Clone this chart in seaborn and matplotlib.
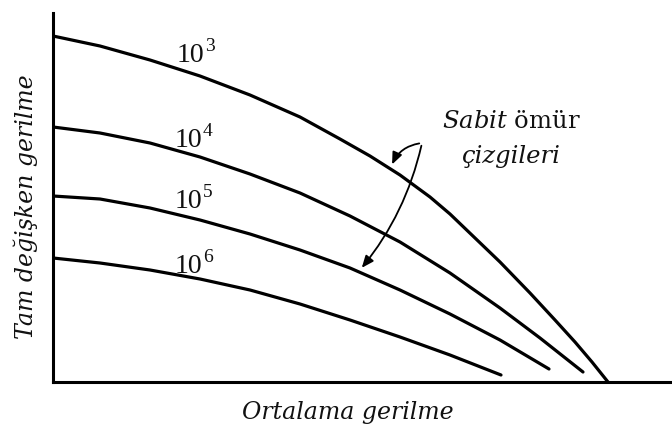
import matplotlib
matplotlib.use("Agg")
import matplotlib.pyplot as plt
import seaborn as sns
import pandas as pd

# Constant-life curves: mean stress (x) vs. alternating stress (y), arbitrary units
x_1e3 = [0, 47, 97, 147, 197, 247, 287, 317, 347, 377, 397, 447, 477, 502, 522, 539, 555]
y_1e3 = [346, 336, 322, 306, 287, 265, 243, 226, 207, 185, 168, 120, 89, 62, 40, 20, 0]

x_1e4 = [0, 47, 97, 147, 197, 247, 297, 347, 397, 447, 487, 530]
y_1e4 = [255, 249, 239, 225, 208, 189, 166, 140, 109, 74, 44, 10]

x_1e5 = [0, 47, 97, 147, 197, 247, 297, 347, 397, 447, 496]
y_1e5 = [186, 183, 174, 162, 148, 132, 114, 92, 68, 42, 13]

x_1e6 = [0, 47, 97, 147, 197, 247, 297, 347, 397, 448]
y_1e6 = [124, 119, 112, 103, 92, 78, 62, 45, 27, 7]

curve_x = [x_1e3, x_1e4, x_1e5, x_1e6]
curve_y = [y_1e3, y_1e4, y_1e5, y_1e6]
exponents = ["3", "4", "5", "6"]

x_label = "Ortalama gerilme"
y_label = "Tam değişken gerilme"
note_line1 = r"$\mathit{Sabit}$ ömür"
note_line2 = "çizgileri"

sns.set_theme(style="white")
plt.rcParams["mathtext.fontset"] = "dejavuserif"

W, H = 672, 430
fig = plt.figure(figsize=(W / 100, H / 100), dpi=100)
ax = fig.add_axes([53 / W, (H - 382) / H, 619 / W, 369 / H])

frames = []
for exp, xs, ys in zip(exponents, curve_x, curve_y):
    frames.append(pd.DataFrame({"x": xs, "y": ys, "life": "10^" + exp}))
df = pd.concat(frames, ignore_index=True)

sns.lineplot(data=df, x="x", y="y", units="life", estimator=None, sort=False,
             color="black", linewidth=2.3, ax=ax, legend=False)
for line in ax.lines:
    line.set_solid_joinstyle("round")
    line.set_solid_capstyle("round")

ax.set_xlim(0, 619)
ax.set_ylim(0, 369)
ax.set_xticks([])
ax.set_yticks([])
for side in ["top", "right"]:
    ax.spines[side].set_visible(False)
for side in ["left", "bottom"]:
    ax.spines[side].set_color("black")
    ax.spines[side].set_linewidth(2.2)
ax.set_xlabel("")
ax.set_ylabel("")

# Life labels (10^N) above each curve
label_pos = [(124, 320), (122, 235), (122, 174), (122, 109)]
for exp, (lx, ly) in zip(exponents, label_pos):
    ax.text(lx, ly, "10", fontsize=20, family="Liberation Serif",
            ha="left", va="baseline", color="#111111")
    ax.text(lx + 28, ly + 11, exp, fontsize=14, family="Liberation Serif",
            ha="left", va="baseline", color="#111111")

# Axis titles
serif = dict(family="DejaVu Serif", style="italic", fontsize=17, color="#111111")
ax.text((347.5 - 53) / 619, -0.100, x_label, transform=ax.transAxes,
        ha="center", va="baseline", **serif)
ax.text(-0.044, 0.474, y_label, transform=ax.transAxes, rotation=90,
        ha="center", va="center", **serif)

# Constant-life annotation
ax.text(458, 254, note_line1, family="DejaVu Serif", fontsize=17.5,
        ha="center", va="baseline", color="#111111")
ax.text(458, 219, note_line2, family="DejaVu Serif", style="italic",
        fontsize=17.5, ha="center", va="baseline", color="#111111")

tip = (369, 239)
ax.annotate("", xy=(338, 215), xytext=tip,
            arrowprops=dict(arrowstyle="-|>,head_length=0.6,head_width=0.25",
                            color="black", lw=1.3,
                            connectionstyle="arc3,rad=0.3"))
ax.annotate("", xy=(307, 112), xytext=tip,
            arrowprops=dict(arrowstyle="-|>,head_length=0.6,head_width=0.25",
                            color="black", lw=1.3,
                            connectionstyle="arc3,rad=-0.12"))

fig.savefig("out.png", dpi=100, facecolor="white")
